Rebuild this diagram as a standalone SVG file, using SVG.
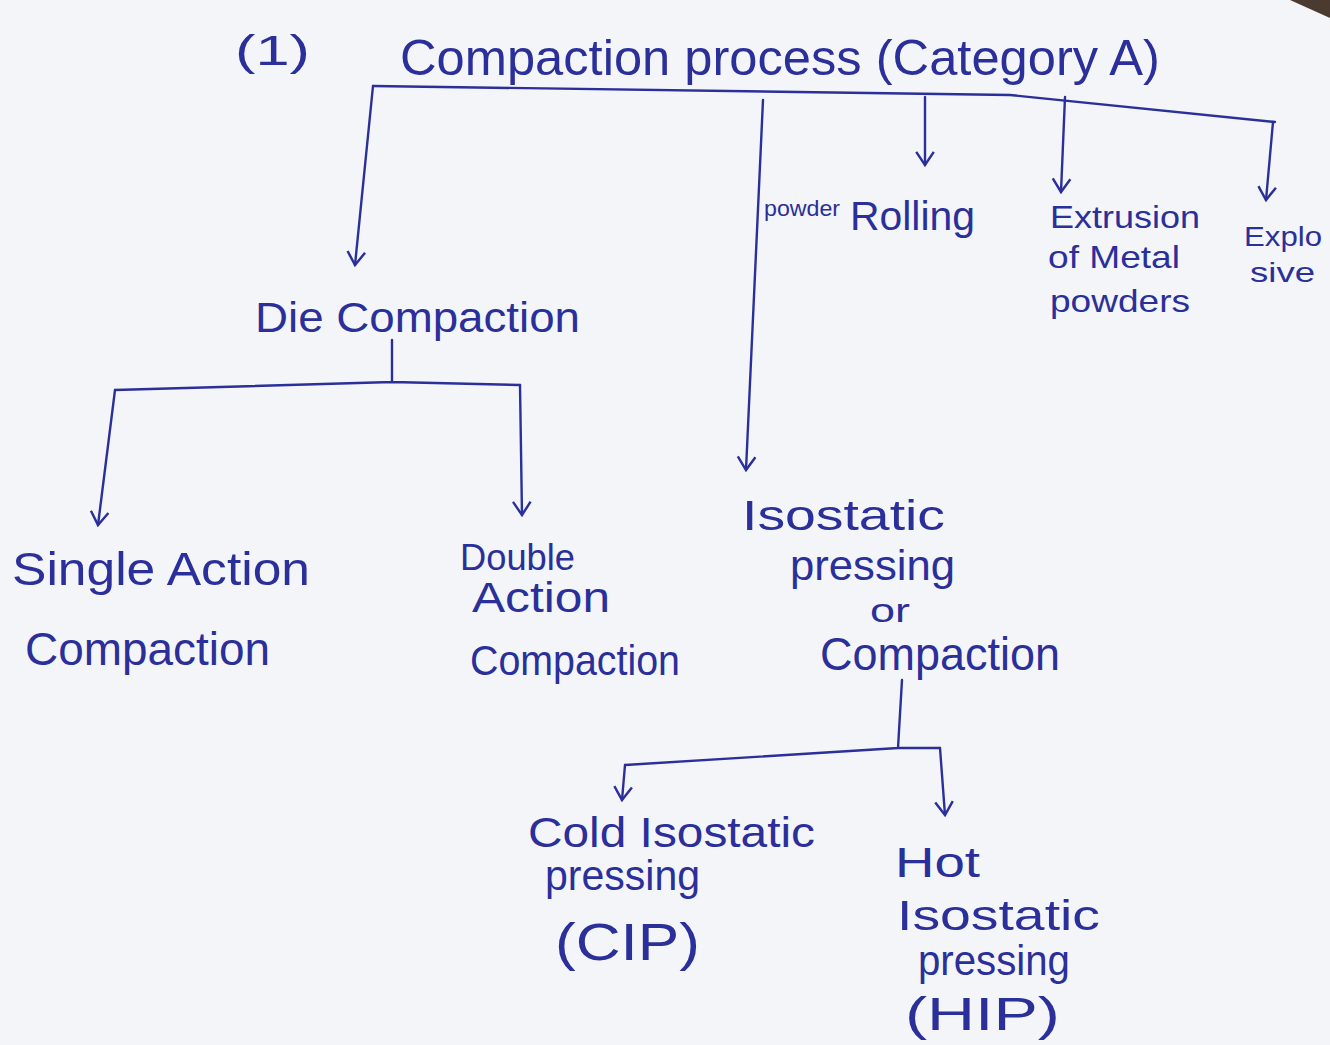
<svg xmlns="http://www.w3.org/2000/svg" width="1330" height="1045" viewBox="0 0 1330 1045">
<defs>
<marker id="arr" viewBox="0 0 20 20" refX="18" refY="10" markerWidth="22" markerHeight="22" markerUnits="userSpaceOnUse" orient="auto">
<path d="M6,2 L18,10 L6,18" fill="none" stroke="#2b2f9a" stroke-width="2.2"/>
</marker>
<style>
.t{font-family:"Liberation Sans","DejaVu Sans",sans-serif;fill:#2b2f9a}
.c{fill:none;stroke:#2b2f9a;stroke-width:2.4;stroke-linecap:round}
.a{marker-end:url(#arr)}
</style>
</defs>
<rect width="1330" height="1045" fill="#f3f5f8"/>
<polygon points="1290,0 1330,0 1330,18" fill="#4a3a30"/>
<g font-size="42">
<text class="t" x="235" y="65" textLength="75" lengthAdjust="spacingAndGlyphs">(1)</text>
<g id="title"><text class="t" x="400" y="75" font-size="50" textLength="760" lengthAdjust="spacingAndGlyphs">Compaction process (Category A)</text></g>
<g id="connectors">
<path class="c" d="M373,86 L1010,95 L1275,122"/>
<path class="c a" d="M373,86 L355,265"/>
<path class="c a" d="M763,100 L746,470"/>
<path class="c a" d="M925,97 L925,165"/>
<path class="c a" d="M1065,97 L1061,192"/>
<path class="c a" d="M1273,122 L1266,200"/>
<path class="c" d="M392,340 L392,382 M115,390 L392,382 L520,385"/>
<path class="c a" d="M115,390 L98,525"/>
<path class="c a" d="M520,385 L522,515"/>
<path class="c" d="M902,680 L898,748 M625,765 L898,748 L940,748"/>
<path class="c a" d="M625,765 L622,800"/>
<path class="c a" d="M940,748 L945,815"/>
</g>
<g id="die"><text class="t" x="255" y="332" textLength="325" lengthAdjust="spacingAndGlyphs">Die Compaction</text></g>
<g id="single"><text class="t" x="12" y="585" font-size="46" textLength="298" lengthAdjust="spacingAndGlyphs">Single Action</text><text class="t" x="25" y="665" font-size="46" textLength="245" lengthAdjust="spacingAndGlyphs">Compaction</text></g>
<g id="double"><text class="t" x="460" y="570" font-size="36" textLength="115" lengthAdjust="spacingAndGlyphs">Double</text><text class="t" x="472" y="612" textLength="138" lengthAdjust="spacingAndGlyphs">Action</text><text class="t" x="470" y="675" textLength="210" lengthAdjust="spacingAndGlyphs">Compaction</text></g>
<g id="isostatic"><text class="t" x="742" y="530" textLength="203" lengthAdjust="spacingAndGlyphs">Isostatic</text><text class="t" x="790" y="580" textLength="165" lengthAdjust="spacingAndGlyphs">pressing</text><text class="t" x="870" y="622" font-size="34" textLength="40" lengthAdjust="spacingAndGlyphs">or</text><text class="t" x="820" y="670" font-size="46" textLength="240" lengthAdjust="spacingAndGlyphs">Compaction</text></g>
<g id="rolling"><text class="t" x="764" y="216" font-size="22" textLength="76" lengthAdjust="spacingAndGlyphs">powder</text><text class="t" x="850" y="230" font-size="40" textLength="125" lengthAdjust="spacingAndGlyphs">Rolling</text></g>
<g id="extrusion"><text class="t" x="1050" y="228" font-size="32" textLength="150" lengthAdjust="spacingAndGlyphs">Extrusion</text><text class="t" x="1048" y="268" font-size="32" textLength="132" lengthAdjust="spacingAndGlyphs">of Metal</text><text class="t" x="1050" y="312" font-size="32" textLength="140" lengthAdjust="spacingAndGlyphs">powders</text></g>
<g id="explosive"><text class="t" x="1244" y="246" font-size="28" textLength="78" lengthAdjust="spacingAndGlyphs">Explo</text><text class="t" x="1250" y="282" font-size="28" textLength="65" lengthAdjust="spacingAndGlyphs">sive</text></g>
<g id="cip"><text class="t" x="528" y="847" textLength="287" lengthAdjust="spacingAndGlyphs">Cold Isostatic</text><text class="t" x="545" y="890" textLength="155" lengthAdjust="spacingAndGlyphs">pressing</text><text class="t" x="555" y="960" font-size="52" textLength="145" lengthAdjust="spacingAndGlyphs">(CIP)</text></g>
<g id="hip"><text class="t" x="895" y="877" textLength="85" lengthAdjust="spacingAndGlyphs">Hot</text><text class="t" x="897" y="930" textLength="203" lengthAdjust="spacingAndGlyphs">Isostatic</text><text class="t" x="918" y="975" textLength="152" lengthAdjust="spacingAndGlyphs">pressing</text><text class="t" x="905" y="1030" font-size="46" textLength="155" lengthAdjust="spacingAndGlyphs">(HIP)</text></g>
</g>
</svg>
